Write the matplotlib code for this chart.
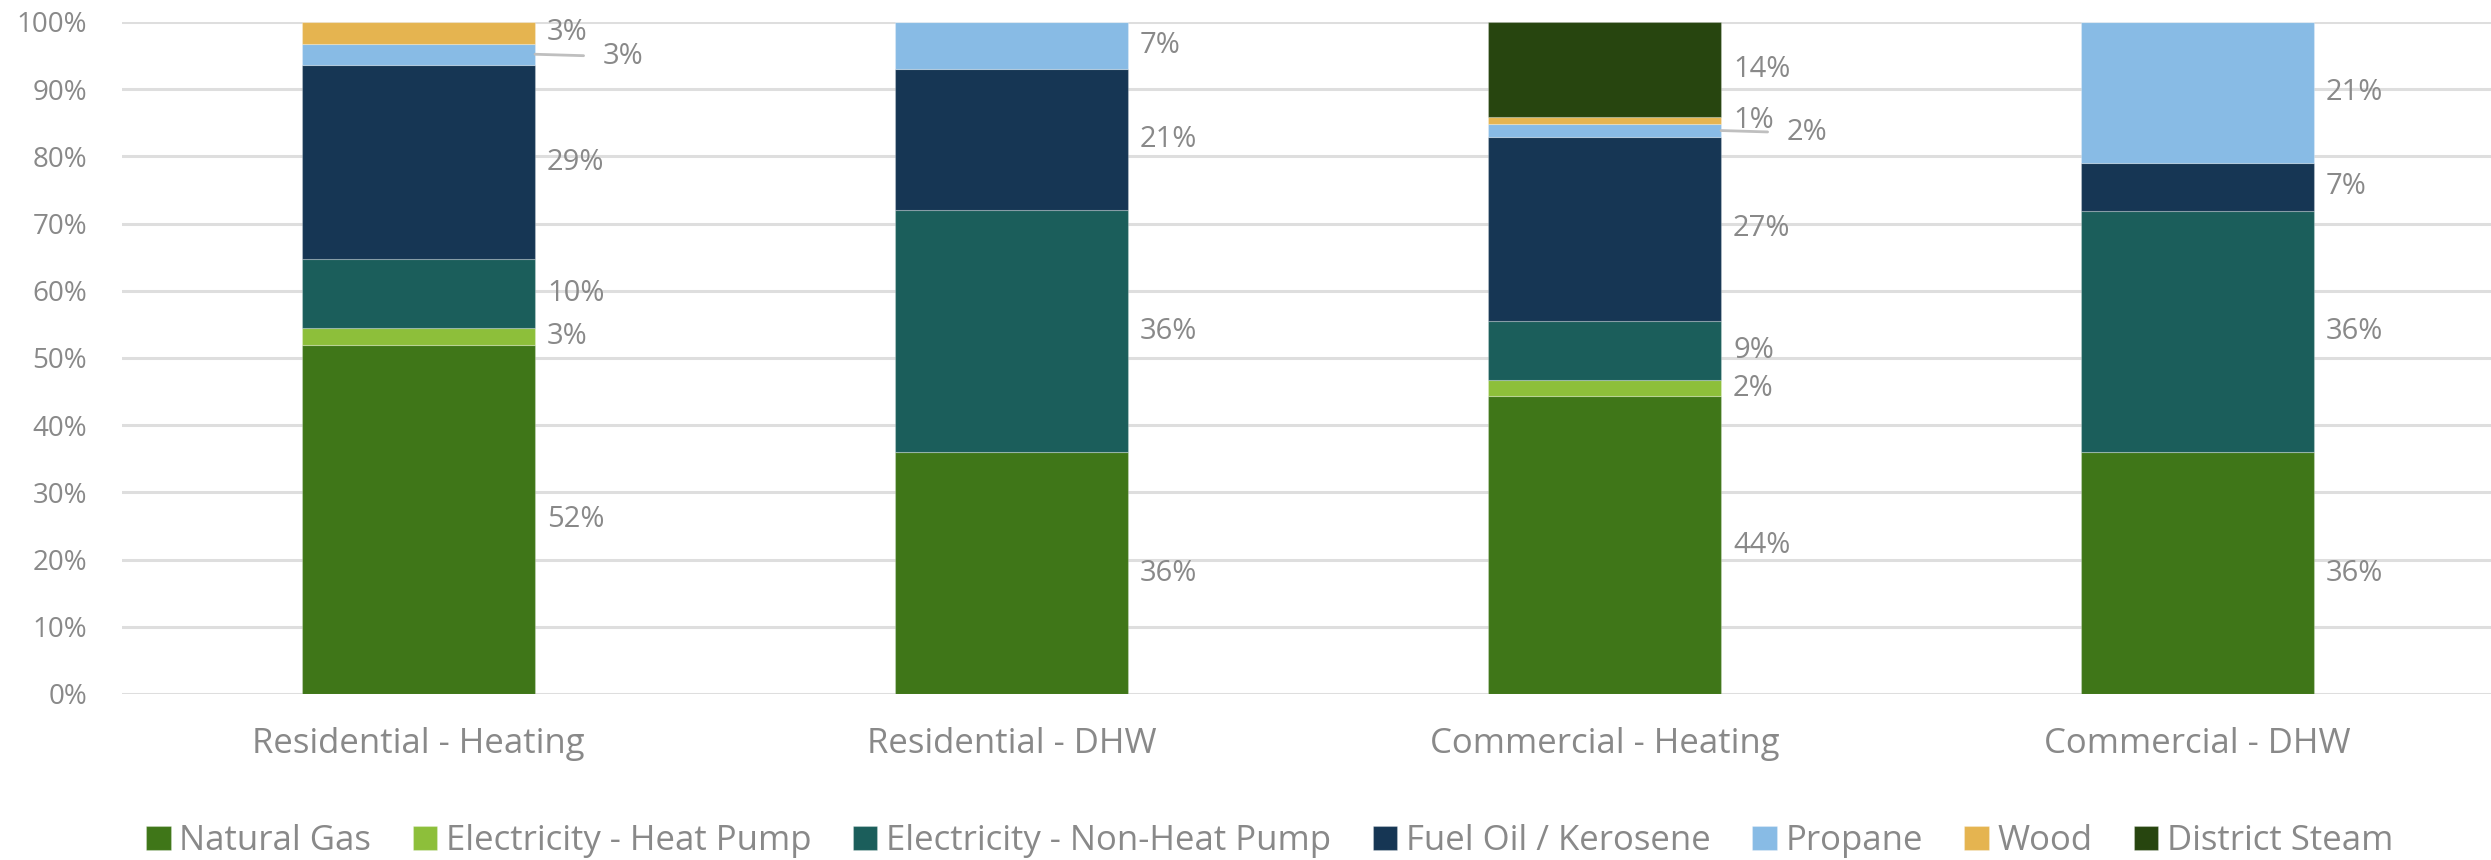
import numpy as np
import matplotlib
matplotlib.use("Agg")
import matplotlib.pyplot as plt

# categories and stacked shares (%)
categories = ["Residential - Heating", "Residential - DHW", "Commercial - Heating", "Commercial - DHW"]
fuels = ["Natural Gas", "Electricity - Heat Pump", "Electricity - Non-Heat Pump",
         "Fuel Oil / Kerosene", "Propane", "Wood", "District Steam"]

natural_gas = [51.9, 36.0, 44.3, 36.0]
elec_heat_pump = [2.6, 0.0, 2.4, 0.0]
elec_non_hp = [10.2, 36.0, 8.8, 35.9]
fuel_oil = [28.9, 21.0, 27.4, 7.1]
propane = [3.2, 7.0, 1.9, 21.0]
wood = [3.2, 0.0, 1.0, 0.0]
district_steam = [0.0, 0.0, 14.2, 0.0]

colors = ["#3F7618", "#8DBF3A", "#1B5E5B", "#163654", "#88BBE5", "#E5B450", "#27450F"]
series = [natural_gas, elec_heat_pump, elec_non_hp, fuel_oil, propane, wood, district_steam]

grey = "#898989"
plt.rcParams["font.family"] = ["Open Sans", "DejaVu Sans"]

fig = plt.figure(figsize=(24.91, 8.6), dpi=100)
ax = fig.add_axes([122/2491, 166/860, 2372/2491, 672/860])

x = np.arange(len(categories))
w = 0.393
bottom = np.zeros(len(categories))
for vals, col, name in zip(series, colors, fuels):
    vals = np.array(vals)
    ax.bar(x, vals, w, bottom=bottom, color=col, label=name, zorder=3,
           edgecolor=(1, 1, 1, 0.25), linewidth=0.8)
    for i, v in enumerate(vals):
        if v <= 0:
            continue
        yc = bottom[i] + v / 2
        # small propane slices get pushed right with a leader line
        shifted = name == "Propane" and v < 5
        if shifted:
            off = 68 if i == 0 else 66
            ax.annotate(f"{v:.0f}%", xy=(x[i] + w / 2, yc), xytext=(off, -2),
                        textcoords="offset pixels", va="center", ha="left",
                        fontsize=21, color=grey, zorder=4,
                        arrowprops=dict(arrowstyle="-", color="#bfbfbf", lw=2,
                                        shrinkA=12, shrinkB=0, relpos=(0, 0.5)))
        else:
            ax.annotate(f"{v:.0f}%", xy=(x[i] + w / 2, yc), xytext=(12, 0),
                        textcoords="offset pixels", va="center", ha="left",
                        fontsize=21, color=grey, zorder=4)
    bottom += vals

ax.set_xlim(-0.5, 3.5)
ax.set_ylim(0, 100)
ax.set_yticks(np.arange(0, 101, 10))
ax.set_yticklabels([f"{t}%" for t in range(0, 101, 10)])
ax.set_xticks(x)
ax.set_xticklabels(categories)
ax.tick_params(axis="both", length=0, colors=grey)
ax.tick_params(axis="y", pad=25, labelsize=20)
ax.tick_params(axis="x", pad=24, labelsize=25)
ax.grid(axis="y", color="#dedede", linewidth=2.2, zorder=0)
for s in ax.spines.values():
    s.set_visible(False)

fig.legend(loc="center", bbox_to_anchor=(1270/2491, 1 - 841/860), ncol=7, frameon=False,
           fontsize=25, labelcolor=grey, handlelength=0.7, handleheight=0.7,
           handletextpad=0.25, columnspacing=1.2)

fig.savefig("out.png", dpi=100)
